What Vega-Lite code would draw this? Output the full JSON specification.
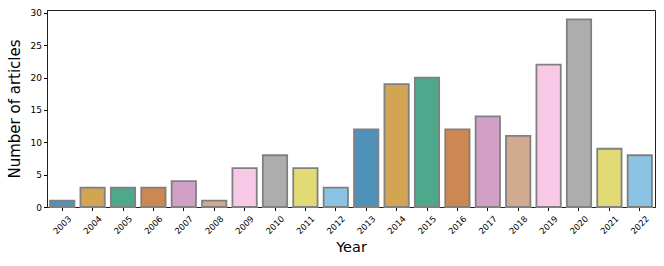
{
  "$schema": "https://vega.github.io/schema/vega-lite/v6.json",
  "width": 608,
  "height": 197,
  "autosize": {"type": "none"},
  "padding": {"left": 47, "top": 10, "right": 9, "bottom": 59},
  "background": "white",
  "config": {
    "font": "DejaVu Sans",
    "view": {"stroke": "#222222", "strokeWidth": 1}
  },
  "data": {
    "values": [
      {"Year": "2003", "n": 1},
      {"Year": "2004", "n": 3},
      {"Year": "2005", "n": 3},
      {"Year": "2006", "n": 3},
      {"Year": "2007", "n": 4},
      {"Year": "2008", "n": 1},
      {"Year": "2009", "n": 6},
      {"Year": "2010", "n": 8},
      {"Year": "2011", "n": 6},
      {"Year": "2012", "n": 3},
      {"Year": "2013", "n": 12},
      {"Year": "2014", "n": 19},
      {"Year": "2015", "n": 20},
      {"Year": "2016", "n": 12},
      {"Year": "2017", "n": 14},
      {"Year": "2018", "n": 11},
      {"Year": "2019", "n": 22},
      {"Year": "2020", "n": 29},
      {"Year": "2021", "n": 9},
      {"Year": "2022", "n": 8}
    ]
  },
  "mark": {"type": "bar", "stroke": "#808080", "strokeWidth": 1.8},
  "encoding": {
    "x": {
      "field": "Year",
      "type": "ordinal",
      "scale": {"paddingInner": 0.2, "paddingOuter": 0.1},
      "axis": {
        "title": "Year",
        "titleFontSize": 14.5,
        "titleFontWeight": "normal",
        "titleColor": "black",
        "titlePadding": 5,
        "labelAngle": -45,
        "labelAlign": "center",
        "labelBaseline": "middle",
        "labelFontSize": 8.5,
        "labelColor": "black",
        "labelPadding": 14,
        "tickColor": "black",
        "tickSize": 3.5,
        "domainColor": "#222222"
      }
    },
    "y": {
      "field": "n",
      "type": "quantitative",
      "scale": {"domain": [0, 30.45], "nice": false},
      "axis": {
        "title": "Number of articles",
        "titleFontSize": 15,
        "titleFontWeight": "normal",
        "titleColor": "black",
        "titlePadding": 8,
        "values": [0, 5, 10, 15, 20, 25, 30],
        "labelFontSize": 9,
        "labelColor": "black",
        "labelPadding": 2,
        "tickColor": "black",
        "tickSize": 3.5,
        "grid": false,
        "domainColor": "#222222"
      }
    },
    "color": {
      "field": "Year",
      "type": "ordinal",
      "legend": null,
      "scale": {
        "range": ["#4f91b8", "#d2a555", "#4ea98c", "#cc8752", "#d29fc7", "#d1ab8f", "#f7c9e6", "#adadad", "#e1da76", "#8cc3e4"]
      }
    }
  }
}
